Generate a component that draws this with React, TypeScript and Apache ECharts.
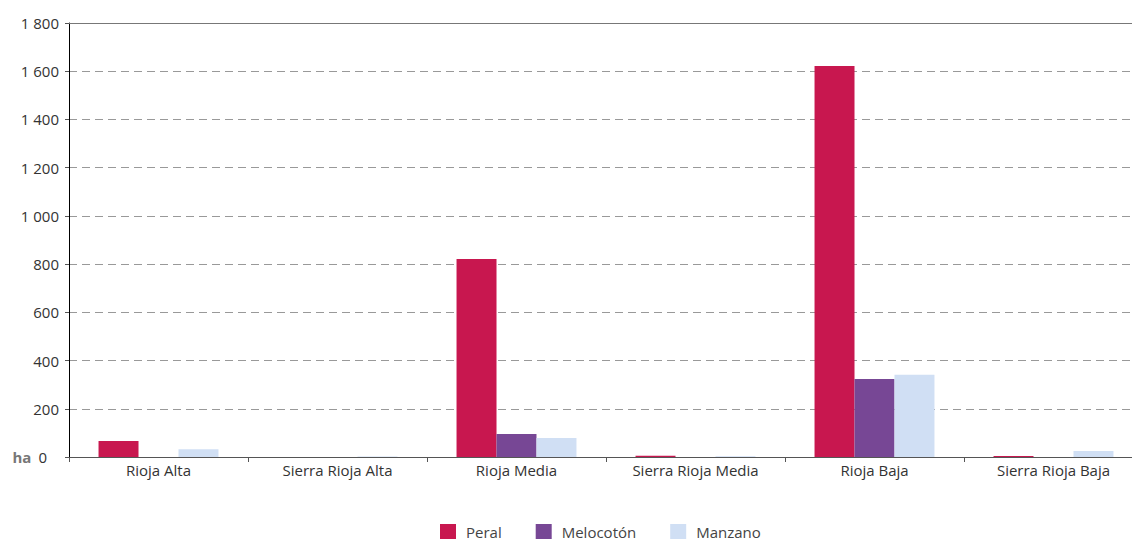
import React, { useEffect, useRef } from "react";
import * as echarts from "echarts";

const categories = ["Rioja Alta", "Sierra Rioja Alta", "Rioja Media", "Sierra Rioja Media", "Rioja Baja", "Sierra Rioja Baja"];
const peral = [66, 0, 821, 5, 1622, 4];
const melocoton = [0, 0, 95, 0, 323, 0];
const manzano = [32, 2, 79, 3, 341, 25];
const yMax = 1800;

const fmt = (v: number) => String(v).replace(/\B(?=(\d{3})+(?!\d))/g, " ");

export default function App() {
  const ref = useRef<HTMLDivElement>(null);
  useEffect(() => {
    const chart = echarts.init(ref.current!, null, { renderer: "svg" });
    const font = "'Open Sans', 'Noto Sans', sans-serif";
    chart.setOption({
      animation: false,
      textStyle: { fontFamily: font },
      grid: { left: 69, right: 0, top: 23, bottom: 83, containLabel: false },
      legend: {
        top: 524,
        left: 440,
        padding: 0,
        itemWidth: 16,
        itemHeight: 15,
        itemGap: 34,
        icon: "rect",
        textStyle: { fontSize: 15, color: "#444", fontFamily: font, padding: [0, 0, 0, 5] },
        data: ["Peral", "Melocotón", "Manzano"],
      },
      xAxis: {
        type: "category",
        data: categories,
        axisLine: { onZero: false, lineStyle: { color: "#555", width: 1 } },
        axisTick: { show: true, length: 5, lineStyle: { color: "#555" } },
        axisLabel: { fontSize: 15, color: "#333", margin: 5, fontFamily: font },
      },
      yAxis: {
        type: "value",
        min: 0,
        max: yMax,
        interval: 200,
        axisLine: { show: true, onZero: false, lineStyle: { color: "#000", width: 1 } },
        axisTick: { show: true, length: 4, lineStyle: { color: "#555" } },
        axisLabel: {
          fontSize: 15,
          color: "#333",
          margin: 10,
          fontFamily: font,
          showMinLabel: true,
          formatter: (v: number) => (v === 0 ? "{ha|ha}{z|0}" : fmt(v)),
          rich: {
            ha: { fontSize: 15, fontWeight: "bold", color: "#777", fontFamily: font, padding: [0, 7, 0, 0] },
            z: { fontSize: 15, color: "#333", fontFamily: font, padding: [0, 12, 0, 0] },
          },
        },
        splitLine: { show: true, lineStyle: { color: "#999", type: [8, 5], width: 1 } },
      },
      series: [
        {
          name: "Peral",
          type: "bar",
          data: peral,
          barGap: "0%",
          barCategoryGap: "33%",
          itemStyle: { color: "#C8174F" },
          markLine: {
            silent: true,
            symbol: "none",
            label: { show: false },
            lineStyle: { color: "#777", type: "solid", width: 1 },
            data: [{ yAxis: yMax }],
          },
        },
        { name: "Melocotón", type: "bar", data: melocoton, itemStyle: { color: "#774795" } },
        { name: "Manzano", type: "bar", data: manzano, itemStyle: { color: "#D0DFF4" } },
      ],
    });
    return () => chart.dispose();
  }, []);
  return (
    <div style={{ width: 1132, height: 540, position: "absolute", left: 0, top: 0, overflow: "hidden" }}>
      <div ref={ref} style={{ width: 1143, height: 540 }} />
    </div>
  );
}
